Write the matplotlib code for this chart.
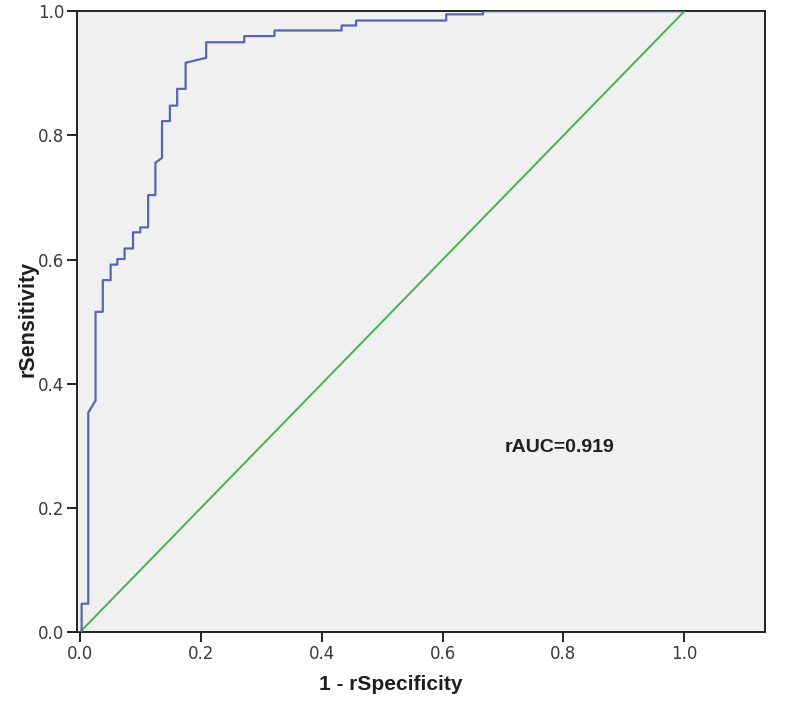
import matplotlib
matplotlib.use("Agg")
import matplotlib.pyplot as plt

# ROC curve vertices (1 - specificity, sensitivity)
fpr = [0.0, 0.003, 0.003, 0.014, 0.014, 0.026, 0.026, 0.038, 0.038, 0.051, 0.051,
       0.062, 0.062, 0.074, 0.074, 0.088, 0.088, 0.100, 0.100, 0.113, 0.113,
       0.125, 0.125, 0.136, 0.136, 0.149, 0.149, 0.161, 0.161, 0.175, 0.175,
       0.209, 0.209, 0.272, 0.272, 0.322, 0.322, 0.433, 0.433, 0.457, 0.457,
       0.606, 0.606, 0.667, 0.667, 1.0]
tpr = [0.0, 0.0, 0.046, 0.046, 0.354, 0.373, 0.516, 0.516, 0.567, 0.567, 0.592,
       0.592, 0.601, 0.601, 0.618, 0.618, 0.644, 0.644, 0.652, 0.652, 0.704,
       0.704, 0.756, 0.764, 0.823, 0.823, 0.848, 0.848, 0.875, 0.875, 0.917,
       0.925, 0.950, 0.950, 0.960, 0.960, 0.969, 0.969, 0.977, 0.977, 0.985,
       0.985, 0.995, 0.995, 1.0, 1.0]
ref_line = [0.0, 1.0]
ticks = [0.0, 0.2, 0.4, 0.6, 0.8, 1.0]
auc_text = "rAUC=0.919"

fig = plt.figure(figsize=(8.0, 7.01), dpi=100)
ax = fig.add_axes([0.096, 0.098, 0.86, 0.886])
ax.set_facecolor("#f0f0f0")

ax.plot(fpr, tpr, color="#5468b0", lw=1.6, zorder=3)
ax.plot(ref_line, ref_line, color="#45b24e", lw=1.4, zorder=2)

ax.set_xlim(-0.005, 1.133)
ax.set_ylim(0.0, 1.0)
ax.set_xticks(ticks)
ax.set_yticks(ticks)

tick_font = {"family": ["Liberation Sans Narrow", "DejaVu Sans"], "size": 12}
ax.set_xticklabels([f"{t:.1f}" for t in ticks], fontdict=tick_font, color="#3a3a3a")
ax.set_yticklabels([f"{t:.1f}" for t in ticks], fontdict=tick_font, color="#3a3a3a")
ax.tick_params(direction="out", length=7, width=1.4, color="#222222", pad=2)

for s in ax.spines.values():
    s.set_linewidth(1.4)
    s.set_color("#222222")

ax.set_xlabel("1 - rSpecificity", family=["Liberation Sans", "DejaVu Sans"],
              size=15, weight="bold", color="#1e1e1e")
ax.xaxis.set_label_coords(0.457, -0.069)
ax.set_ylabel("rSensitivity", family=["Liberation Sans", "DejaVu Sans"],
              size=15.5, weight="bold", color="#1e1e1e")
ax.yaxis.set_label_coords(-0.056, 0.505)

ax.text(0.702, 0.298, auc_text, family=["Liberation Sans", "DejaVu Sans"],
        size=14, weight="bold", color="#1e1e1e", ha="left", va="center")

fig.savefig("out.png", dpi=100, facecolor="white")
